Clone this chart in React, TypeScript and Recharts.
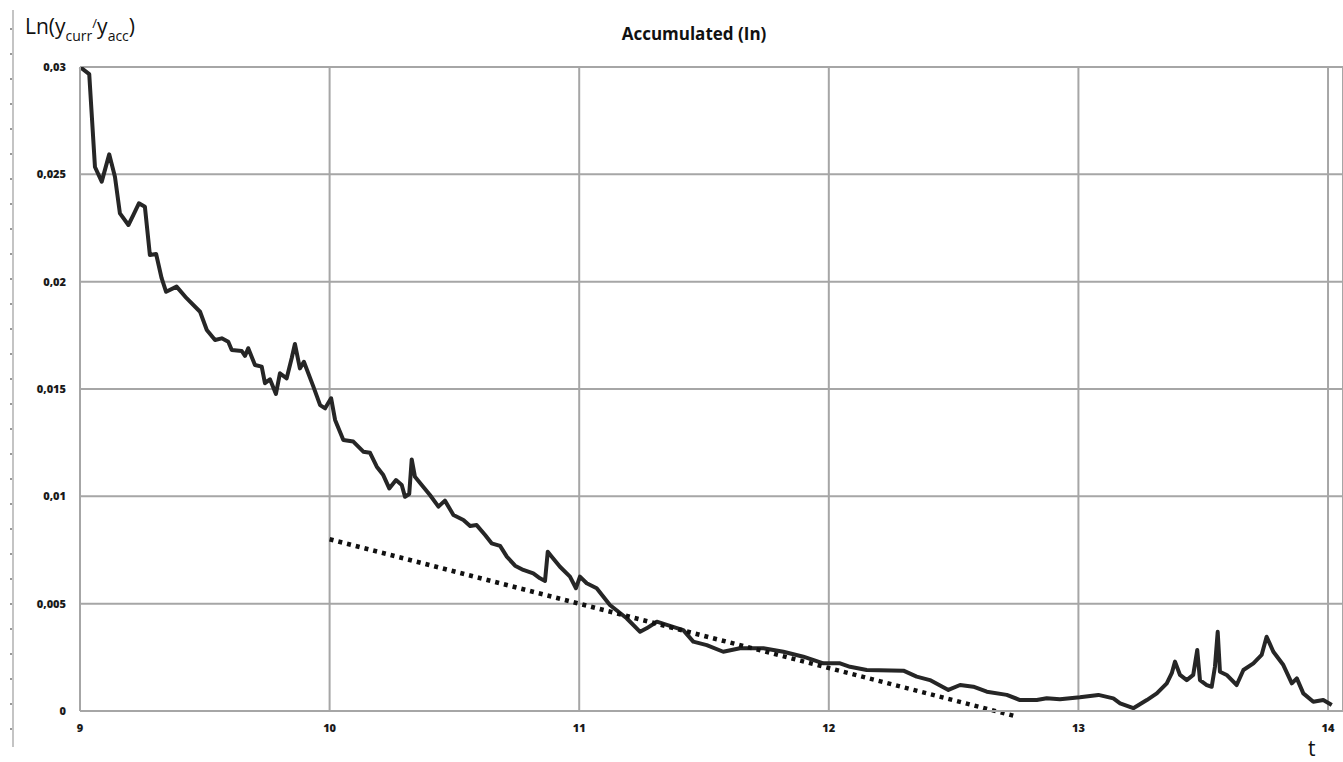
import React from "react";
import { CartesianGrid, Line, LineChart, XAxis, YAxis } from "recharts";

// t values and ln(y_curr/y_acc)
const tValues = [
  9.0, 9.037, 9.06, 9.087, 9.117, 9.14, 9.16, 9.194, 9.214, 9.236, 9.26, 9.28,
  9.305, 9.327, 9.345, 9.387, 9.427, 9.481, 9.508, 9.541, 9.568, 9.594, 9.608,
  9.648, 9.661, 9.674, 9.701, 9.728, 9.741, 9.761, 9.785, 9.801, 9.828, 9.848,
  9.861, 9.881, 9.897, 9.935, 9.962, 9.982, 10.006, 10.022, 10.055, 10.095,
  10.135, 10.162, 10.189, 10.215, 10.239, 10.266, 10.289, 10.302, 10.319,
  10.329, 10.342, 10.369, 10.402, 10.436, 10.462, 10.496, 10.536, 10.563,
  10.589, 10.623, 10.649, 10.683, 10.71, 10.743, 10.776, 10.816, 10.843, 10.863,
  10.874, 10.89, 10.923, 10.963, 10.987, 11.003, 11.03, 11.07, 11.123, 11.19,
  11.244, 11.27, 11.311, 11.351, 11.417, 11.457, 11.511, 11.577, 11.644, 11.738,
  11.818, 11.898, 11.978, 12.045, 12.085, 12.152, 12.299, 12.352, 12.405,
  12.479, 12.526, 12.579, 12.633, 12.713, 12.766, 12.833, 12.873, 12.926,
  13.006, 13.08, 13.14, 13.167, 13.22, 13.274, 13.314, 13.354, 13.374, 13.387,
  13.407, 13.434, 13.46, 13.476, 13.487, 13.514, 13.534, 13.547, 13.558, 13.567,
  13.594, 13.634, 13.661, 13.701, 13.734, 13.754, 13.781, 13.821, 13.855,
  13.875, 13.901, 13.941, 13.981, 14.015,
];

const lnValues = [
  0.03, 0.02967, 0.02534, 0.02466, 0.02593, 0.02489, 0.02318, 0.02264, 0.02311,
  0.02365, 0.02349, 0.02124, 0.02129, 0.02016, 0.01953, 0.01977, 0.01923,
  0.0186, 0.01775, 0.01728, 0.01736, 0.0172, 0.01682, 0.01677, 0.01654, 0.0169,
  0.01612, 0.01604, 0.01527, 0.01545, 0.01477, 0.01573, 0.0155, 0.01643,
  0.0171, 0.01596, 0.01627, 0.01511, 0.01425, 0.0141, 0.01457, 0.01356,
  0.01262, 0.01255, 0.01208, 0.01203, 0.01138, 0.01099, 0.01037, 0.01076,
  0.01053, 0.00998, 0.01011, 0.01172, 0.01091, 0.01053, 0.01006, 0.00952,
  0.0098, 0.00913, 0.0089, 0.00862, 0.00866, 0.0082, 0.00781, 0.00769, 0.00719,
  0.00677, 0.00657, 0.00641, 0.00618, 0.00606, 0.00742, 0.00719, 0.00672,
  0.00626, 0.00572, 0.00626, 0.00595, 0.00572, 0.00494, 0.00432, 0.00369,
  0.00385, 0.00416, 0.00401, 0.00377, 0.00323, 0.00307, 0.00276, 0.00292,
  0.00292, 0.00276, 0.00253, 0.00222, 0.00222, 0.00206, 0.00191, 0.00188,
  0.0016, 0.00144, 0.00098, 0.00121, 0.00113, 0.0009, 0.00075, 0.00051, 0.00051,
  0.00059, 0.00055, 0.00064, 0.00075, 0.00059, 0.00036, 0.00013, 0.00051,
  0.00082, 0.00129, 0.00176, 0.0023, 0.00168, 0.00144, 0.00168, 0.00284,
  0.00144, 0.00121, 0.00113, 0.00206, 0.00369, 0.00183, 0.00168, 0.00121,
  0.00191, 0.00222, 0.00261, 0.00346, 0.00276, 0.00214, 0.00129, 0.00152,
  0.00082, 0.00043, 0.00051, 0.00028,
];

// dotted trend line
const trendT = [10.0, 12.75];
const trendValues = [0.008, -0.00025];

const xTicks = [9, 10, 11, 12, 13, 14];
const yTicks = [0, 0.005, 0.01, 0.015, 0.02, 0.025, 0.03];

const series = tValues.map((t, i) => ({ t, v: lnValues[i] }));
const trend = trendT.map((t, i) => ({ t, v: trendValues[i] }));

const tickStyle = {
  fontFamily: "'Open Sans', sans-serif",
  fontSize: 11,
  fontWeight: 800,
  fill: "#1a1a1a",
};

export default function App() {
  return (
    <div
      style={{
        position: "absolute",
        left: 0,
        top: 0,
        width: 1343,
        height: 762,
        background: "#fff",
        fontFamily: "'Open Sans', sans-serif",
        overflow: "hidden",
      }}
    >
      {/* the trend dips just under the x axis in the original */}
      <style>{`.trend-line, .trend-line * { clip-path: none !important; }`}</style>

      {/* ruler on the far left */}
      <div
        style={{
          position: "absolute",
          left: 12,
          top: 10,
          width: 2,
          height: 737,
          background: "#c4c4c4",
        }}
      />
      <div
        style={{
          position: "absolute",
          left: 10,
          top: 12,
          width: 2,
          height: 735,
          backgroundImage:
            "repeating-linear-gradient(to bottom, transparent 0px, transparent 16px, #999 16px, #999 18px, transparent 18px, transparent 25px)",
        }}
      />

      <div
        style={{
          position: "absolute",
          left: 25,
          top: 12,
          fontSize: 21,
          color: "#111",
          whiteSpace: "nowrap",
        }}
      >
        Ln(y
        <span style={{ fontSize: 14, position: "relative", top: 7 }}>curr</span>
        <span style={{ fontSize: 13, position: "relative", top: -6 }}>/</span>y
        <span style={{ fontSize: 14, position: "relative", top: 7 }}>acc</span>)
      </div>

      <div
        style={{
          position: "absolute",
          left: 0,
          width: 1388,
          top: 22,
          textAlign: "center",
          fontSize: 17,
          fontWeight: 700,
          color: "#111",
        }}
      >
        Accumulated (In)
      </div>

      <div
        style={{
          position: "absolute",
          left: 1308,
          top: 734,
          fontSize: 21,
          color: "#111",
        }}
      >
        t
      </div>

      <div style={{ position: "absolute", left: 0, top: 0 }}>
        <LineChart
          width={1343}
          height={762}
          margin={{ top: 67, right: 0, left: 0, bottom: 21 }}
        >
          <CartesianGrid stroke="#a6a6a6" strokeWidth={2} />
          <XAxis
            type="number"
            dataKey="t"
            domain={[9, 14.06]}
            ticks={xTicks}
            tickLine={false}
            tickMargin={7}
            height={30}
            stroke="#a6a6a6"
            strokeWidth={2}
            tick={tickStyle}
          />
          <YAxis
            type="number"
            dataKey="v"
            domain={[0, 0.03]}
            allowDataOverflow
            ticks={yTicks}
            width={80}
            tickLine={false}
            tickMargin={8}
            stroke="#a6a6a6"
            strokeWidth={2}
            tick={tickStyle}
            tickFormatter={(v: number) => String(v).replace(".", ",")}
          />
          <Line
            data={series}
            dataKey="v"
            type="linear"
            stroke="#262626"
            strokeWidth={4}
            strokeLinejoin="round"
            dot={false}
            isAnimationActive={false}
          />
          <Line
            className="trend-line"
            data={trend}
            dataKey="v"
            type="linear"
            stroke="#111"
            strokeWidth={4.5}
            strokeDasharray="4 5"
            dot={false}
            isAnimationActive={false}
          />
        </LineChart>
      </div>
    </div>
  );
}
